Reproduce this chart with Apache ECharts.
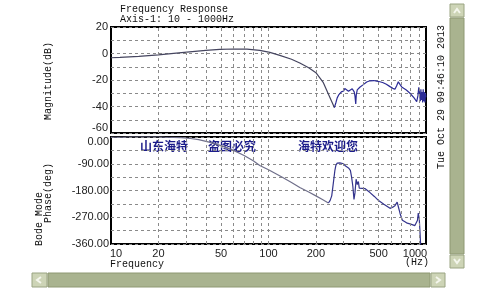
<!DOCTYPE html>
<html>
<head>
<meta charset="utf-8">
<script src="https://cdn.jsdelivr.net/npm/echarts@6/dist/echarts.min.js"></script>
<style>
html, body { margin: 0; padding: 0; background: #fff; }
#main { width: 486px; height: 288px; }
</style>
</head>
<body>
<div id="main"></div>
<script>
// frequency response
var magFreq = [10, 11.4, 15, 20, 25, 30.3, 40, 49, 60, 73, 88, 102, 118, 140, 158, 180, 200, 223, 245, 262, 268, 273, 280, 290, 300, 305, 310, 314, 322, 330, 340, 345, 350, 354, 358, 361, 366, 380, 400, 420, 441, 465, 486, 510, 535, 560, 591, 615, 635, 650, 667, 685, 701, 750, 791, 840, 873, 888, 900, 910, 920, 928, 936, 944, 952, 960, 968, 976, 984, 992, 1000];
var magDb = [-3.2, -2.9, -2.1, -1.0, 0.1, 1.0, 2.3, 3.1, 3.4, 3.3, 2.4, 0.8, -1.4, -4.3, -7.2, -10.8, -14.5, -22, -33, -40.8, -37, -33.5, -31, -29, -28.3, -26.5, -28, -27.3, -28.5, -27, -26.6, -26.8, -29, -32, -38, -31, -27.5, -25.5, -23.5, -21.5, -20.6, -20.4, -20.8, -21.3, -22.1, -23.2, -25, -26.3, -27, -24.5, -21.4, -23.5, -25.2, -27.6, -30, -33.5, -36.4, -32, -25.5, -30, -36, -27, -35, -29, -37, -27, -36, -29, -37, -30, -33];

var phaseFreq = [10, 12, 13, 20, 22, 25, 28, 32, 36, 42, 50, 60, 70, 80, 88, 100, 120, 140, 158, 180, 200, 220, 240, 246, 252, 258, 264, 268, 273, 278, 284, 292, 300, 307, 314, 322, 331, 337, 343, 349, 354, 360, 366, 372, 377, 387, 411, 441, 470, 500, 540, 591, 615, 635, 656, 670, 685, 708, 735, 760, 800, 850, 873, 883, 893, 906, 916, 925];
var phaseDeg = [-0.5, -0.5, 1.5, 1.5, -0.5, -1, -2, -5, -9, -17, -29, -45, -62, -80, -96, -110, -133, -153, -170, -185, -198, -210, -222, -214, -198, -155, -112, -95, -88, -92, -87, -93, -90, -97, -95, -104, -112, -135, -165, -210, -188, -142, -160, -150, -172, -166, -174, -187, -200, -214, -226, -240, -236, -231, -219, -238, -258, -280, -285, -290, -293, -298, -302, -280, -256, -275, -320, -365];

var freqLabels = [10, 20, 50, 100, 200, 500, 1000];
var freqGrid = [20, 30, 40, 50, 60, 70, 80, 90, 100, 200, 300, 400, 500, 600, 700, 800, 900];
var notes = ['山东海特', '盗图必究', '海特欢迎您'];

var mono = '"Liberation Mono", "DejaVu Sans Mono", monospace';
var sans = '"Liberation Sans", Arial, sans-serif';

function pairs(xs, ys, from, to) {
    var out = [];
    for (var i = 0; i < xs.length; i++) {
        if (xs[i] >= from && xs[i] <= to) out.push([xs[i], ys[i]]);
    }
    return out;
}

var dashed = { color: '#8a8a8a', type: [3, 3], width: 1 };
var gridLine = { show: true, lineStyle: dashed };

// vertical grid lines, drawn as markLines on the log axis
var vLines = {
    silent: true, symbol: ['none', 'none'], animation: false,
    label: { show: false }, lineStyle: dashed,
    data: freqGrid.map(function (f) { return { xAxis: f }; })
};

var chart = echarts.init(document.getElementById('main'), null, { renderer: 'canvas' });

var option = {
    animation: false,
    backgroundColor: '#fff',
    grid: [
        { left: 111, right: 60, top: 27, height: 106, show: true, borderColor: '#000', borderWidth: 2 },
        { left: 111, right: 60, top: 137, height: 107, show: true, borderColor: '#000', borderWidth: 2 }
    ],
    xAxis: [
        {
            type: 'log', logBase: 10, min: 10, max: 1000, gridIndex: 0,
            axisLine: { show: false }, axisTick: { show: false },
            axisLabel: { show: false }, splitLine: { show: false }
        },
        {
            type: 'log', logBase: 10, min: 10, max: 1000, gridIndex: 1,
            axisLine: { show: false }, axisTick: { show: false },
            splitLine: { show: false },
            axisLabel: {
                customValues: freqLabels, margin: 4, color: '#222', fontFamily: sans, fontSize: 11,
                formatter: function (v) {
                    if (v === 10) return '{l|10}';
                    if (v === 1000) return '{r|1000}';
                    return String(v);
                },
                rich: {
                    l: { padding: [0, 0, 0, 10], fontFamily: sans, fontSize: 11, color: '#222' },
                    r: { padding: [0, 22, 0, 0], fontFamily: sans, fontSize: 11, color: '#222' }
                }
            }
        }
    ],
    yAxis: [
        {
            type: 'value', min: -60, max: 20, interval: 20, gridIndex: 0,
            axisLine: { show: false }, axisTick: { show: false },
            splitLine: gridLine,
            minorTick: { show: false, splitNumber: 2 },
            minorSplitLine: gridLine,
            axisLabel: {
                margin: 3, color: '#222', fontFamily: sans, fontSize: 11,
                formatter: function (v) { return v === -60 ? '{up|-60}' : String(v); },
                rich: { up: { padding: [0, 0, 10, 0], fontFamily: sans, fontSize: 11, color: '#222' } }
            }
        },
        {
            type: 'value', min: -360, max: 0, interval: 90, gridIndex: 1,
            axisLine: { show: false }, axisTick: { show: false },
            splitLine: gridLine,
            minorTick: { show: false, splitNumber: 2 },
            minorSplitLine: gridLine,
            axisLabel: {
                margin: 2, color: '#222', fontFamily: sans, fontSize: 11,
                formatter: function (v) {
                    var s = v.toFixed(2);
                    return v === 0 ? '{dn|' + s + '}' : s;
                },
                rich: { dn: { padding: [10, 0, 0, 0], fontFamily: sans, fontSize: 11, color: '#222' } }
            }
        }
    ],
    series: [
        {
            type: 'line', xAxisIndex: 0, yAxisIndex: 0, z: 1,
            data: [], markLine: vLines, symbol: 'none'
        },
        {
            type: 'line', xAxisIndex: 1, yAxisIndex: 1, z: 1,
            data: [], markLine: vLines, symbol: 'none'
        },
        {
            type: 'line', xAxisIndex: 0, yAxisIndex: 0, z: 3, data: pairs(magFreq, magDb, 0, 262),
            symbol: 'none', lineStyle: { width: 1.2, color: '#45455f' }, clip: true
        },
        {
            type: 'line', xAxisIndex: 0, yAxisIndex: 0, z: 3, data: pairs(magFreq, magDb, 262, 2000),
            symbol: 'none', lineStyle: { width: 1.2, color: '#2b2b96' }, clip: true
        },
        {
            type: 'line', xAxisIndex: 1, yAxisIndex: 1, z: 3, data: pairs(phaseFreq, phaseDeg, 0, 240),
            symbol: 'none', lineStyle: { width: 1.2, color: '#6f6f8a' }, clip: true
        },
        {
            type: 'line', xAxisIndex: 1, yAxisIndex: 1, z: 3, data: pairs(phaseFreq, phaseDeg, 240, 2000),
            symbol: 'none', lineStyle: { width: 1.2, color: '#34348c' }, clip: true
        }
    ],
    graphic: [
        { type: 'text', left: 120, top: 4, style: { text: 'Frequency Response', font: '10px ' + mono, fill: '#111' } },
        { type: 'text', left: 120, top: 14, style: { text: 'Axis-1: 10 - 1000Hz', font: '10px ' + mono, fill: '#111' } },
        { type: 'text', x: 48, y: 81, rotation: Math.PI / 2,
          style: { text: 'Magnitude(dB)', font: '10px ' + mono, fill: '#111', align: 'center', verticalAlign: 'middle' } },
        { type: 'text', x: 39, y: 219, rotation: Math.PI / 2,
          style: { text: 'Bode Mode', font: '10px ' + mono, fill: '#111', align: 'center', verticalAlign: 'middle' } },
        { type: 'text', x: 48, y: 193, rotation: Math.PI / 2,
          style: { text: 'Phase(deg)', font: '10px ' + mono, fill: '#111', align: 'center', verticalAlign: 'middle' } },
        { type: 'text', x: 441, y: 97, rotation: Math.PI / 2,
          style: { text: 'Tue Oct 29 09:46:10 2013', font: '10px ' + mono, fill: '#111', align: 'center', verticalAlign: 'middle' } },
        { type: 'text', left: 110, top: 259, style: { text: 'Frequency', font: '10px ' + mono, fill: '#111' } },
        { type: 'text', left: 405, top: 257, style: { text: '(Hz)', font: '10px ' + mono, fill: '#111' } },

        { type: 'text', left: 140, top: 140, style: { text: notes[0], font: 'bold 12px "Noto Sans CJK SC"', fill: '#1c1c8a' } },
        { type: 'text', left: 208, top: 140, style: { text: notes[1], font: 'bold 12px "Noto Sans CJK SC"', fill: '#1c1c8a' } },
        { type: 'text', left: 298, top: 140, style: { text: notes[2], font: 'bold 12px "Noto Sans CJK SC"', fill: '#1c1c8a' } },

        // vertical scrollbar
        { type: 'rect', shape: { x: 450, y: 4, width: 14, height: 13 }, style: { fill: '#cdd4b6', stroke: '#9aa482' } },
        { type: 'rect', shape: { x: 450, y: 18, width: 14, height: 236 }, style: { fill: '#a9b38f', stroke: '#8e9872' } },
        { type: 'rect', shape: { x: 450, y: 255, width: 14, height: 13 }, style: { fill: '#cdd4b6', stroke: '#9aa482' } },
        { type: 'polyline', shape: { points: [[454, 13], [457, 9], [460, 13]] }, style: { stroke: '#f4f6ec', lineWidth: 2, fill: null } },
        { type: 'polyline', shape: { points: [[454, 259], [457, 263], [460, 259]] }, style: { stroke: '#f4f6ec', lineWidth: 2, fill: null } },
        // horizontal scrollbar
        { type: 'rect', shape: { x: 32, y: 273, width: 15, height: 14 }, style: { fill: '#cdd4b6', stroke: '#9aa482' } },
        { type: 'rect', shape: { x: 48, y: 273, width: 382, height: 14 }, style: { fill: '#a9b38f', stroke: '#8e9872' } },
        { type: 'rect', shape: { x: 431, y: 273, width: 14, height: 14 }, style: { fill: '#cdd4b6', stroke: '#9aa482' } },
        { type: 'polyline', shape: { points: [[41, 277], [37, 280], [41, 283]] }, style: { stroke: '#f4f6ec', lineWidth: 2, fill: null } },
        { type: 'polyline', shape: { points: [[436, 277], [440, 280], [436, 283]] }, style: { stroke: '#f4f6ec', lineWidth: 2, fill: null } }
    ]
};

chart.setOption(option);
</script>
</body>
</html>
